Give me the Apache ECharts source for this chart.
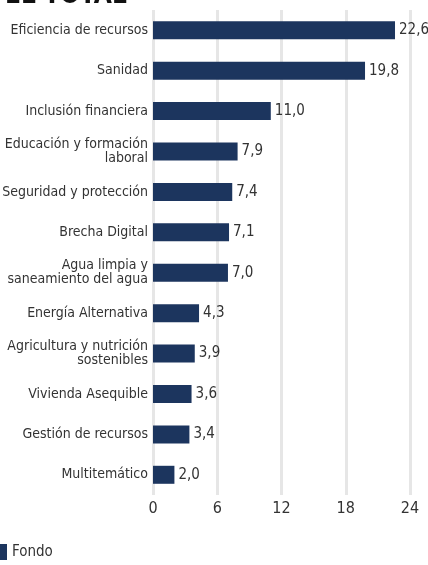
<!DOCTYPE html>
<html>
<head>
<meta charset="utf-8">
<script src="https://cdn.jsdelivr.net/npm/echarts@6/dist/echarts.min.js"></script>
<style>
  html, body { margin: 0; padding: 0; background: #fff; }
  #chart { width: 428px; height: 565px; }
</style>
</head>
<body>
<div id="chart"></div>
<script>
const categories = [
  "Eficiencia de recursos",
  "Sanidad",
  "Inclusión financiera",
  "Educación y formación\nlaboral",
  "Seguridad y protección",
  "Brecha Digital",
  "Agua limpia y\nsaneamiento del agua",
  "Energía Alternativa",
  "Agricultura y nutrición\nsostenibles",
  "Vivienda Asequible",
  "Gestión de recursos",
  "Multitemático",
]
const fondo = [22.6, 19.8, 11.0, 7.9, 7.4, 7.1, 7.0, 4.3, 3.9, 3.6, 3.4, 2.0]
const xTicks = [0, 6, 12, 18, 24]

const FONT = "'Liberation Sans Narrow', 'DejaVu Sans Condensed', Roboto, sans-serif"
const BAR = "#1c355e"
const TEXT = "#333333"

const chart = echarts.init(document.getElementById("chart"))

chart.setOption({
  animation: false,
  textStyle: { fontFamily: FONT },
  title: {
    text: "EL TOTAL",
    left: 0,
    top: -22,
    textStyle: { fontFamily: FONT, fontSize: 26, fontWeight: "bold", color: "#111" },
  },
  legend: {
    data: ["Fondo"],
    left: -5,
    bottom: 0,
    icon: "rect",
    itemWidth: 7,
    itemHeight: 16,
    itemGap: 7,
    textStyle: { fontFamily: FONT, fontSize: 15, color: TEXT },
  },
  grid: {
    top: 10,
    bottom: 70,
    left: 153,
    right: 18,
    containLabel: false,
    outerBoundsMode: "none",
  },
  xAxis: {
    type: "value",
    min: xTicks[0],
    max: xTicks[xTicks.length - 1],
    interval: 6,
    axisLine: { show: false },
    axisTick: { show: false },
    axisLabel: { color: TEXT, fontSize: 16, margin: 6, fontFamily: FONT },
    splitLine: { lineStyle: { color: "#e6e6e6", width: 3 } },
  },
  yAxis: {
    type: "category",
    data: categories,
    inverse: true,
    axisLine: { show: false },
    axisTick: { show: false },
    axisLabel: {
      color: TEXT,
      fontSize: 14,
      lineHeight: 14,
      margin: 5,
      align: "right",
      fontFamily: FONT,
    },
  },
  series: [
    {
      name: "Fondo",
      type: "bar",
      data: fondo,
      barWidth: 18,
      itemStyle: { color: BAR },
      label: {
        show: true,
        position: "right",
        distance: 4,
        color: TEXT,
        fontSize: 15,
        fontFamily: FONT,
        formatter: (p) => p.value.toFixed(1).replace(".", ","),
      },
    },
  ],
})
</script>
</body>
</html>
